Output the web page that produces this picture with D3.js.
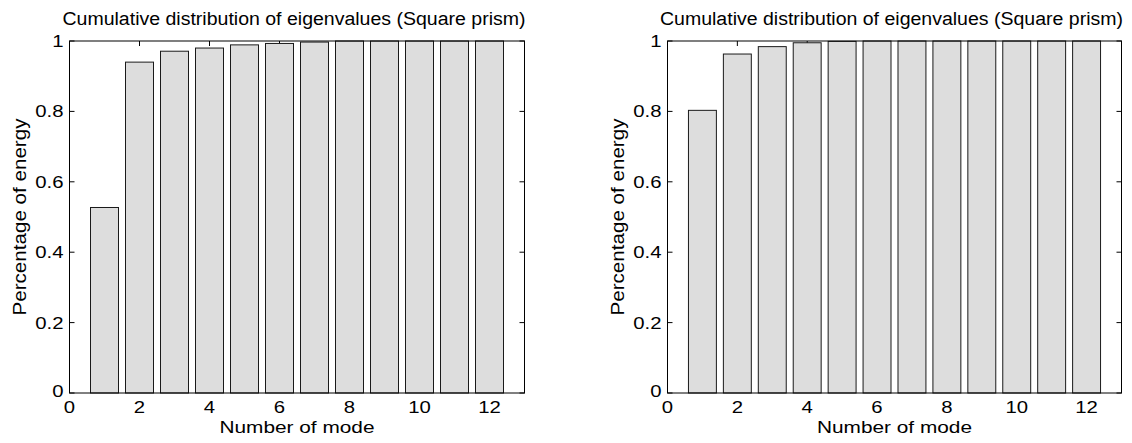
<!DOCTYPE html>
<html><head><meta charset="utf-8">
<script src="https://cdn.jsdelivr.net/npm/d3@7"></script>
<style>body{margin:0;background:#fff}svg{display:block}text{font-family:Arial,"Liberation Sans",Helvetica,sans-serif;fill:#000}</style>
</head><body>
<svg id="c" width="1132" height="443"></svg>
<script>
const modes = [1,2,3,4,5,6,7,8,9,10,11,12];
const leftValues = [0.527,0.940,0.971,0.980,0.989,0.993,0.997,1,1,1,1,1];
const rightValues = [0.803,0.963,0.984,0.995,0.999,1,1,1,1,1,1,1];
const xTicks = [0,2,4,6,8,10,12];
const yTicks = [0,0.2,0.4,0.6,0.8,1];
const yTickLabels = ["0","0.2","0.4","0.6","0.8","1"];
const titleText = "Cumulative distribution of eigenvalues (Square prism)";
const xLabel = "Number of mode";
const yLabel = "Percentage of energy";

const svg = d3.select("#c");
function widen(sel, k){
  sel.each(function(){
    const L = this.getComputedTextLength();
    d3.select(this).attr("textLength", L*k).attr("lengthAdjust","spacingAndGlyphs");
  });
}
function panel(x0, x1, values){
  const top = 41, bottom = 393;
  const x = d3.scaleLinear().domain([0,13]).range([x0,x1]);
  const y = d3.scaleLinear().domain([0,1]).range([bottom,top]);
  const g = svg.append("g");
  const bw = (x(0.8)-x(0));
  const tl = 5;
  xTicks.forEach(t=>{
    g.append("line").attr("x1",x(t)).attr("x2",x(t)).attr("y1",bottom).attr("y2",bottom-tl).attr("stroke","#000");
    g.append("line").attr("x1",x(t)).attr("x2",x(t)).attr("y1",top).attr("y2",top+tl).attr("stroke","#000");
  });
  yTicks.forEach(t=>{
    g.append("line").attr("x1",x0).attr("x2",x0+tl).attr("y1",y(t)).attr("y2",y(t)).attr("stroke","#000");
    g.append("line").attr("x1",x1).attr("x2",x1-tl).attr("y1",y(t)).attr("y2",y(t)).attr("stroke","#000");
  });
  g.selectAll("rect.bar").data(modes).enter().append("rect")
    .attr("x",d=>x(d)-bw/2).attr("width",bw)
    .attr("y",(d,i)=>y(values[i])).attr("height",(d,i)=>y(0)-y(values[i]))
    .attr("fill","#dddddd").attr("stroke","#1a1a1a").attr("stroke-width",1);
  g.append("rect").attr("x",x0).attr("y",top).attr("width",x1-x0).attr("height",bottom-top)
    .attr("fill","none").attr("stroke","#000").attr("stroke-width",1);
  xTicks.forEach(t=>{
    const tx = g.append("text").attr("x",x(t)).attr("y",413).attr("text-anchor","middle").attr("font-size",16).text(t);
    widen(tx,1.27);
  });
  yTicks.forEach((t,i)=>{
    const ty = g.append("text").attr("x",x0-6).attr("y",y(t)+6 - (t===0?2:0)).attr("text-anchor","end").attr("font-size",16).text(yTickLabels[i]);
    widen(ty,1.27);
  });
  g.append("text").attr("x",(x0+x1)/2-3).attr("y",25).attr("text-anchor","middle").attr("font-size",18)
    .attr("textLength",463).attr("lengthAdjust","spacingAndGlyphs").text(titleText);
  g.append("text").attr("x",(x0+x1)/2).attr("y",433).attr("text-anchor","middle").attr("font-size",16)
    .attr("textLength",155).attr("lengthAdjust","spacingAndGlyphs").text(xLabel);
  g.append("text").attr("transform",`translate(${x0-44},${(top+bottom)/2}) rotate(-90)`).attr("text-anchor","middle").attr("font-size",18)
    .attr("textLength",197).attr("lengthAdjust","spacingAndGlyphs").text(yLabel);
}
panel(69.5,524.5,leftValues);
panel(667.5,1121.5,rightValues);
</script>
</body></html>
